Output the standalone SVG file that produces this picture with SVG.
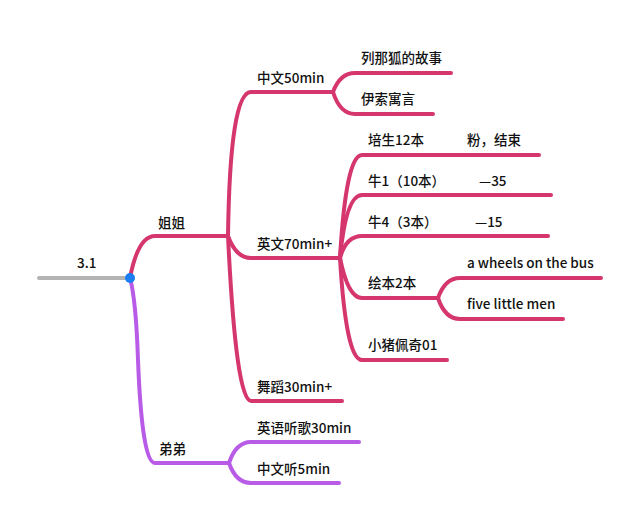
<svg xmlns="http://www.w3.org/2000/svg" width="640" height="523" viewBox="0 0 640 523">
<style>
.p{fill:none;stroke:#d5366e;stroke-width:4;stroke-linecap:round;stroke-linejoin:round}
.v{fill:none;stroke:#b85ce8;stroke-width:4;stroke-linecap:round}
.g{fill:none;stroke:#b3b3b3;stroke-width:4;stroke-linecap:round}
text{font-family:"Noto Sans CJK SC","Liberation Sans",sans-serif;font-size:13.5px;font-weight:500;fill:#111}
</style>
<rect width="640" height="523" fill="#fff"/>
<g id="connectors">
<path class="g" d="M39,278 H130"/>
<path class="p" d="M130,278 Q138,236 155,236 H228"/>
<path class="v" d="M130,278 Q136,300 138,360 Q142,463 155,463 H229"/>
<path class="p" d="M228,236 Q230,92 251,92 H333"/>
<path class="p" d="M228,236 Q236,258 251,258 H340"/>
<path class="p" d="M228,236 Q236,401 251,401 H342"/>
<path class="p" d="M333,92 Q340,73 355,73 H451"/>
<path class="p" d="M333,92 Q340,114 355,114 H433"/>
<path class="p" d="M340,258 Q346,155 362,155 H539"/>
<path class="p" d="M340,258 Q346,195 362,195 H551"/>
<path class="p" d="M340,258 Q346,236 362,236 H548"/>
<path class="p" d="M340,258 Q348,298 362,298 H438"/>
<path class="p" d="M340,258 Q346,360 362,360 H447"/>
<path class="p" d="M438,298 Q445,278 460,278 H601"/>
<path class="p" d="M438,298 Q445,319 460,319 H563"/>
<path class="v" d="M229,463 Q236,442 251,442 H359"/>
<path class="v" d="M229,463 Q236,483 251,483 H339"/>
</g>
<g id="root"><text x="77" y="268">3.1</text><circle cx="130" cy="278" r="5" fill="#1a7ef0"/></g>
<g id="jiejie"><text x="158" y="228">姐姐</text></g>
<g id="didi"><text x="159" y="454">弟弟</text></g>
<g id="zw50"><text x="257" y="83">中文50min</text></g>
<g id="yw70"><text x="257" y="249">英文70min+</text></g>
<g id="wd"><text x="257" y="392">舞蹈30min+</text></g>
<g id="lnh"><text x="361" y="63">列那狐的故事</text></g>
<g id="ys"><text x="361" y="104">伊索寓言</text></g>
<g id="ps"><text x="368" y="145">培生12本</text><text x="467" y="145">粉，结束</text></g>
<g id="n1"><text x="368" y="186">牛1（10本）</text><text x="479" y="186">—35</text></g>
<g id="n4"><text x="368" y="227">牛4（3本）</text><text x="475" y="227">—15</text></g>
<g id="hb"><text x="368" y="288">绘本2本</text></g>
<g id="aw"><text x="467" y="268">a wheels on the bus</text></g>
<g id="fl"><text x="467" y="309">five little men</text></g>
<g id="xz"><text x="368" y="350">小猪佩奇01</text></g>
<g id="ygt"><text x="257" y="433">英语听歌30min</text></g>
<g id="zwt"><text x="257" y="474">中文听5min</text></g>
</svg>
